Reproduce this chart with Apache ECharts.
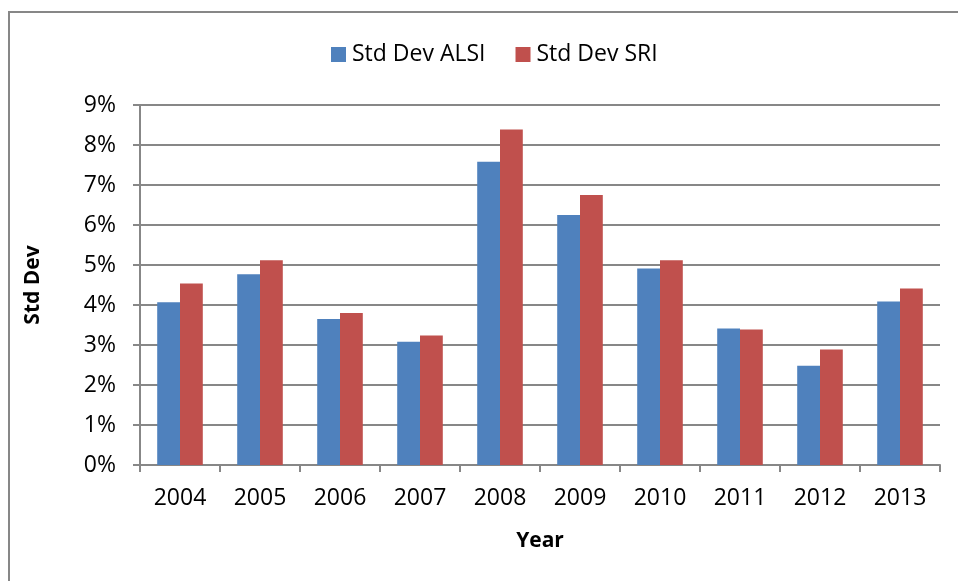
<!DOCTYPE html>
<html>
<head>
<meta charset="utf-8">
<script src="https://cdn.jsdelivr.net/npm/echarts@6/dist/echarts.min.js"></script>
<style>
  html, body { margin: 0; padding: 0; background: #fff; }
  #chart { width: 958px; height: 581px; }
</style>
</head>
<body>
<div id="chart"></div>
<script>
// 年份
var years = ['2004', '2005', '2006', '2007', '2008', '2009', '2010', '2011', '2012', '2013'];
// 标准差 (%)
var stdAlsi = [4.07, 4.77, 3.65, 3.08, 7.58, 6.25, 4.91, 3.41, 2.48, 4.09];
var stdSri = [4.54, 5.12, 3.80, 3.24, 8.39, 6.75, 5.12, 3.39, 2.89, 4.41];
var seriesNames = ['Std Dev ALSI', 'Std Dev SRI'];

var font = 'Open Sans';
var gray = '#878787';

var myChart = echarts.init(document.getElementById('chart'));
myChart.setOption({
	animation: false,
	backgroundColor: '#fff',
	graphic: [{
		type: 'rect',
		shape: { x: 9, y: 12, width: 1200, height: 1200 },
		style: { fill: 'none', stroke: gray, lineWidth: 2 },
		silent: true
	}],
	legend: {
		data: seriesNames,
		top: 38,
		left: 326,
		itemWidth: 15,
		itemHeight: 15,
		itemGap: 30,
		icon: 'rect',
		textStyle: { fontFamily: font, fontSize: 23, color: '#000', padding: [0, 0, 0, 1] }
	},
	grid: {
		left: 140,
		right: 18,
		top: 105,
		bottom: 116
	},
	xAxis: {
		type: 'category',
		data: years,
		name: 'Year',
		nameLocation: 'middle',
		nameGap: 66,
		nameTextStyle: { fontFamily: font, fontSize: 21, fontWeight: 'bold', color: '#000' },
		axisLine: { lineStyle: { color: gray, width: 2 } },
		axisTick: { show: true, length: 7, lineStyle: { color: gray, width: 2 } },
		axisLabel: { fontFamily: font, fontSize: 23, color: '#000', margin: 22 }
	},
	yAxis: {
		type: 'value',
		min: 0,
		max: 9,
		interval: 1,
		name: 'Std Dev',
		nameLocation: 'middle',
		nameGap: 96,
		nameRotate: 90,
		nameTextStyle: { fontFamily: font, fontSize: 21, fontWeight: 'bold', color: '#000' },
		axisLine: { show: true, lineStyle: { color: gray, width: 2 } },
		axisTick: { show: true, length: 7, lineStyle: { color: gray, width: 2 } },
		axisLabel: { fontFamily: font, fontSize: 23, color: '#000', margin: 24, formatter: '{value}%' },
		splitLine: { lineStyle: { color: gray, width: 2 } }
	},
	series: [{
		name: seriesNames[0],
		type: 'bar',
		data: stdAlsi,
		barGap: '0%',
		barCategoryGap: '43%',
		itemStyle: { color: '#4F81BD' }
	}, {
		name: seriesNames[1],
		type: 'bar',
		data: stdSri,
		itemStyle: { color: '#C0504D' }
	}]
});
</script>
</body>
</html>
